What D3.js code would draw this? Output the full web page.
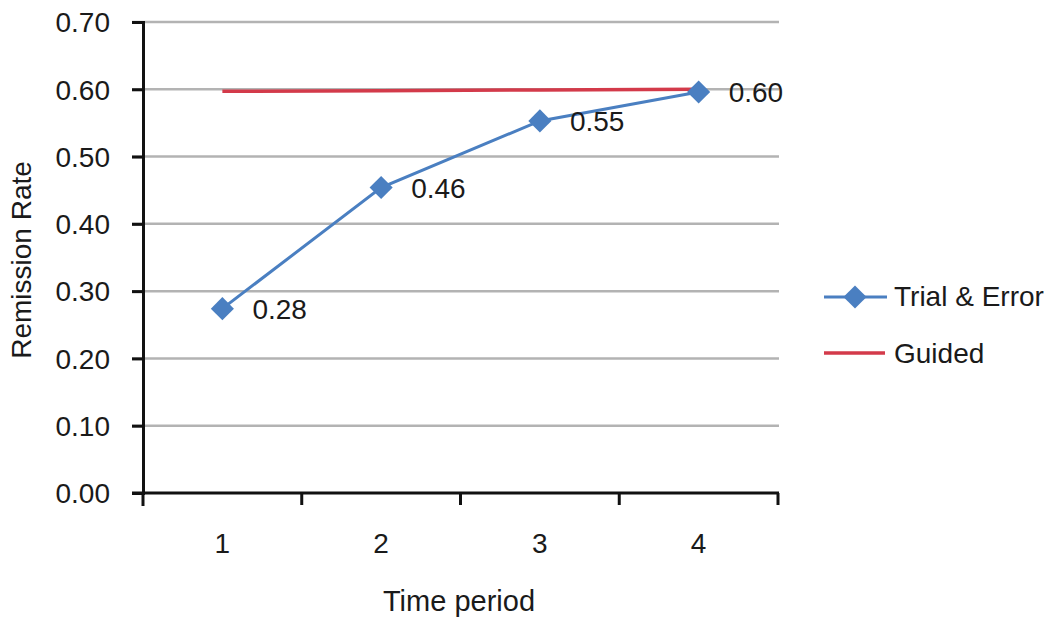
<!DOCTYPE html>
<html><head><meta charset="utf-8">
<script src="https://cdn.jsdelivr.net/npm/d3@7"></script>
<style>body{margin:0;background:#fff}svg{display:block}text{font-family:"Liberation Sans",Arial,sans-serif;fill:#1a1a1a}</style>
</head><body><svg id="c" width="1050" height="617"></svg>
<script>
const categories = ["1","2","3","4"];
const trialError = [0.274, 0.454, 0.553, 0.596];
const trialLabels = ["0.28","0.46","0.55","0.60"];
const guided = [0.597, 0.598, 0.599, 0.600];
const yTicks = [0,0.1,0.2,0.3,0.4,0.5,0.6,0.7];
const seriesNames = ["Trial & Error","Guided"];

(function(){
const svg = d3.select("#c");
const mLeft = 143, mRight = 778, mTop = 22, mBottom = 493;
const x = d3.scaleBand().domain(categories).range([mLeft, mRight]);
const y = d3.scaleLinear().domain([0,0.7]).range([mBottom, mTop]);
const blue = "#4a7fc1", red = "#d33a4a";
const fs = "28px";

// gridlines
svg.append("g").selectAll("line").data(yTicks.filter(d=>d>0)).join("line")
  .attr("x1", mLeft-11).attr("x2", mRight+1)
  .attr("y1", d=>y(d)).attr("y2", d=>y(d))
  .attr("stroke","#b3b3b3").attr("stroke-width",2.5);

// y axis
const ya = svg.append("g").attr("transform",`translate(${mLeft},0)`)
  .call(d3.axisLeft(y).tickValues(yTicks).tickFormat(d3.format(".2f")).tickSize(11).tickPadding(22));
ya.select(".domain").attr("stroke","#111").attr("stroke-width",3);
ya.selectAll(".tick line").attr("stroke","#111").attr("stroke-width",3);
ya.selectAll("text").style("font-size",fs).attr("fill","#1a1a1a").attr("font-family",null).attr("dy","0.35em");

// x axis
const xa = svg.append("g").attr("transform",`translate(0,${mBottom})`);
xa.append("line").attr("x1",mLeft-11).attr("x2",mRight+1).attr("y1",0).attr("y2",0)
  .attr("stroke","#111").attr("stroke-width",3);
const bounds = categories.map(c=>x(c)).concat([x(categories[3])+x.bandwidth()]);
xa.selectAll("line.t").data(bounds).join("line").attr("class","t")
  .attr("x1",d=>d).attr("x2",d=>d).attr("y1",0).attr("y2",(d,i)=>i===0?13:12)
  .attr("stroke","#111").attr("stroke-width",3);
xa.selectAll("text").data(categories).join("text")
  .attr("x",d=>x(d)+x.bandwidth()/2).attr("y",60).attr("text-anchor","middle")
  .style("font-size",fs).text(d=>d);

// titles
svg.append("text").attr("x",459).attr("y",611).attr("text-anchor","middle")
  .style("font-size","29px").text("Time period");
svg.append("text").attr("transform","translate(31,260) rotate(-90)").attr("text-anchor","middle")
  .style("font-size",fs).text("Remission Rate");

const cx = d => x(d)+x.bandwidth()/2;
svg.append("path").datum(guided)
  .attr("d", d3.line().x((d,i)=>cx(categories[i])).y(d=>y(d)))
  .attr("fill","none").attr("stroke",red).attr("stroke-width",3.5);
svg.append("path").datum(trialError)
  .attr("d", d3.line().x((d,i)=>cx(categories[i])).y(d=>y(d)))
  .attr("fill","none").attr("stroke",blue).attr("stroke-width",3);
const diamond = d3.symbol().type(d3.symbolDiamond2).size(340);
svg.append("g").selectAll("path").data(trialError).join("path")
  .attr("d", diamond)
  .attr("transform",(d,i)=>`translate(${cx(categories[i])},${y(d)})`)
  .attr("fill",blue);
svg.append("g").selectAll("text").data(trialError).join("text")
  .attr("x",(d,i)=>cx(categories[i])+30).attr("y",d=>y(d)+10)
  .style("font-size",fs).text((d,i)=>trialLabels[i]);

// legend
const lg = svg.append("g");
lg.append("line").attr("x1",824).attr("x2",887).attr("y1",297).attr("y2",297).attr("stroke",blue).attr("stroke-width",3);
lg.append("path").attr("d",diamond).attr("transform","translate(855,297)").attr("fill",blue);
lg.append("text").attr("x",894).attr("y",306).style("font-size",fs).text(seriesNames[0]);
lg.append("line").attr("x1",824).attr("x2",885).attr("y1",353).attr("y2",353).attr("stroke",red).attr("stroke-width",3.5);
lg.append("text").attr("x",894).attr("y",363).style("font-size",fs).text(seriesNames[1]);
})();
</script></body></html>
